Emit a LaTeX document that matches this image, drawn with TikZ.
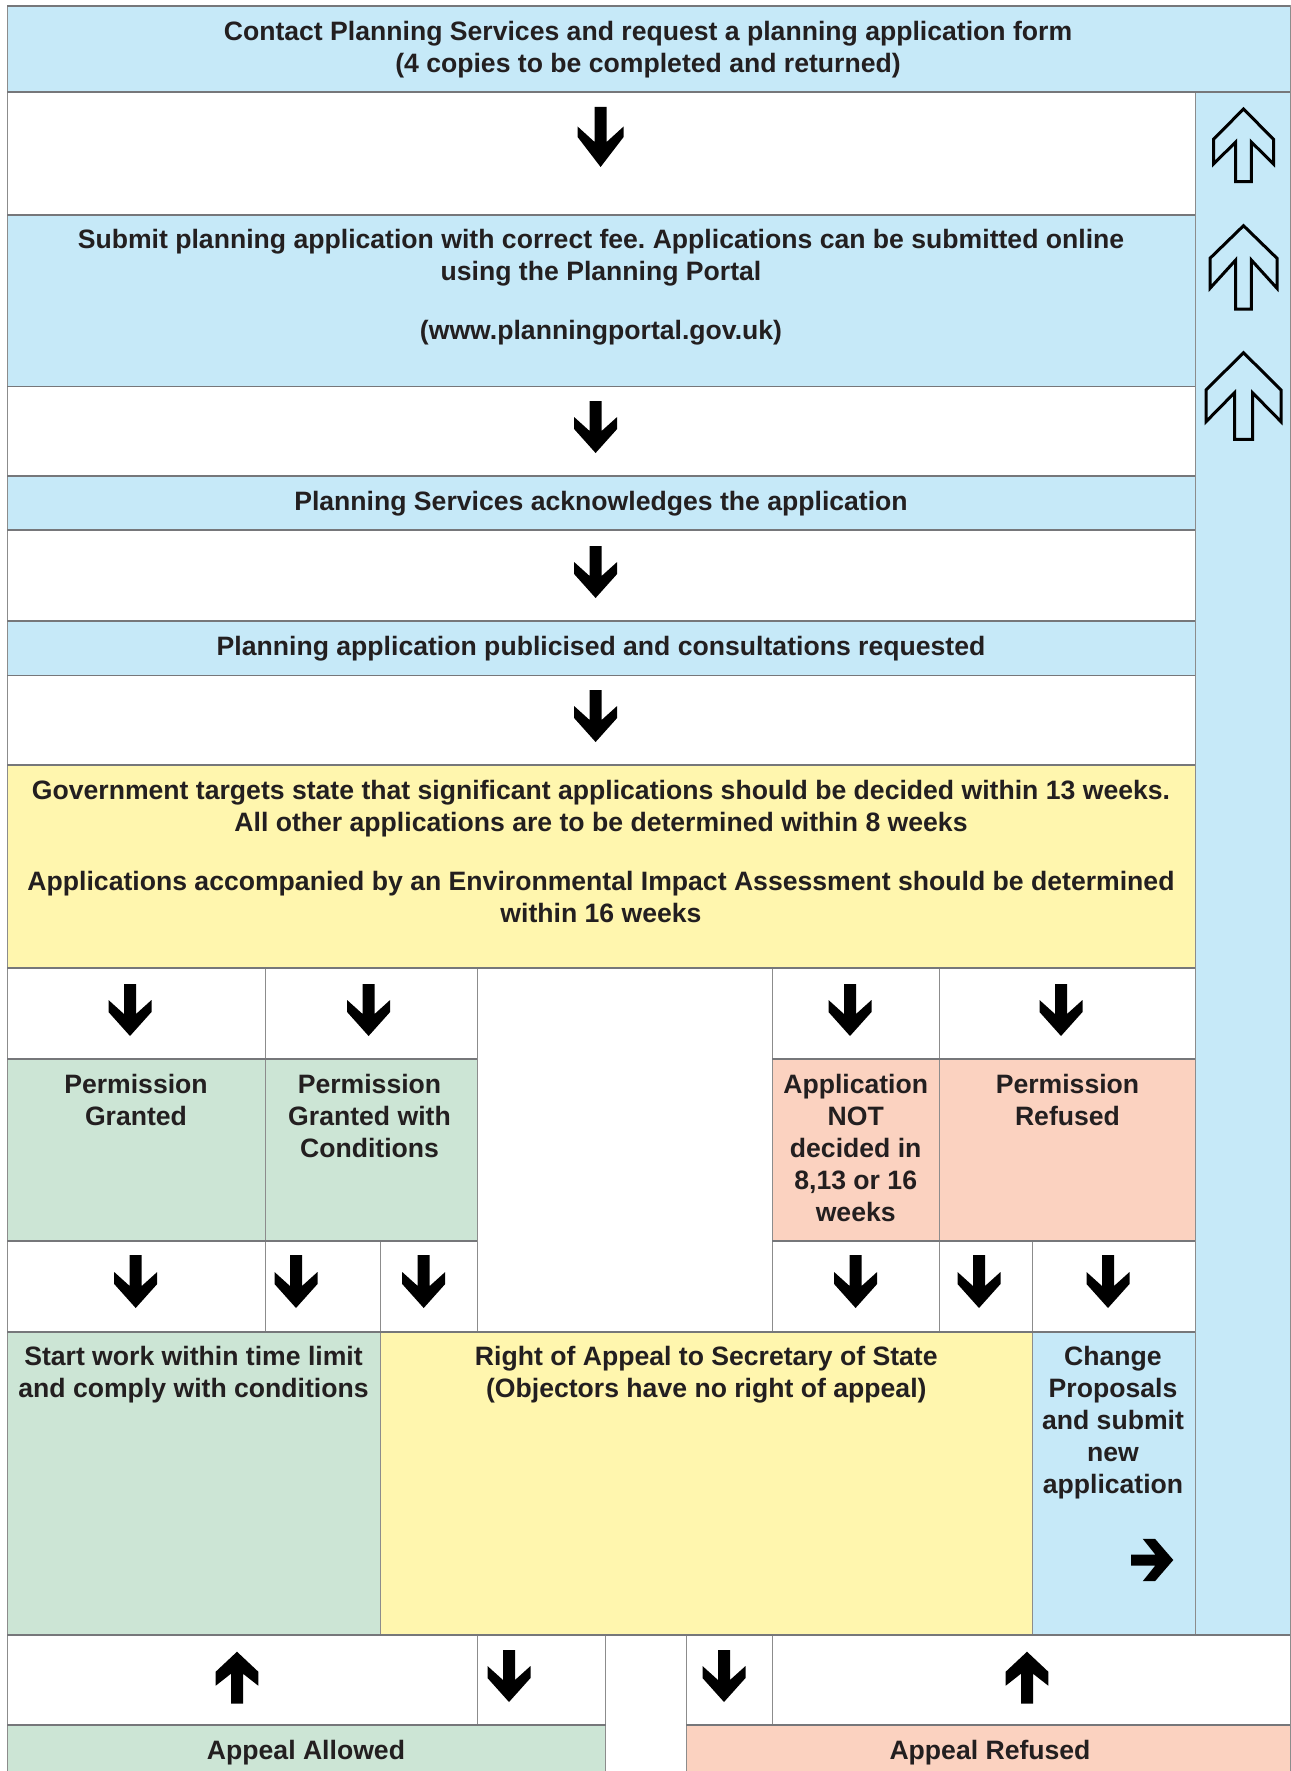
\documentclass[tikz,border=0pt]{standalone}
\usepackage{fontspec}
\setmainfont{Liberation Sans}
\definecolor{cblue}{HTML}{C6E9F8}
\definecolor{cyel}{HTML}{FFF6AE}
\definecolor{cgreen}{HTML}{CCE5D5}
\definecolor{csalm}{HTML}{FBD2C0}
\definecolor{cline}{HTML}{76777A}
\definecolor{cvline}{HTML}{8C8C8C}
\definecolor{ctext}{HTML}{231F20}
\newcommand\cellfont{\fontsize{26.6}{31.9}\selectfont\bfseries\frenchspacing}
% #1 style, #2 tip, #3 rotation, #4 head half width, #5 shaft half width,
% #6 length, #7 barb near, #8 barb far, #9 notch
\newcommand\fatarrow[9][fill=black]{%
  \path[#1, shift={#2}, rotate=#3] (0,0) -- (#4,-#7) -- (#4,-#8) -- (#5,-#9)
    -- (#5,-#6) -- (-#5,-#6) -- (-#5,-#9) -- (-#4,-#8) -- (-#4,-#7) -- cycle;}
\tikzset{
  txt/.style={font=\cellfont, text=ctext, align=center, anchor=north, inner sep=0pt},
  cellbox/.style={draw=cvline, line width=1pt},
  hline/.style={draw=cline, line width=1.8pt},
  outarr/.style={draw=black, line width=3pt, line join=miter},
}
\begin{document}
\begin{tikzpicture}[x=1pt,y=-1pt]
\useasboundingbox (0,0) rectangle (1290,1771);
\fill[white] (0,0) rectangle (1290,1771);
% --- cells ---
\path[cellbox, fill=cblue] (7,6) rectangle (1290,92.3);
\path[cellbox, fill=cblue] (1195.4,92.3) rectangle (1290,1635);
\path[cellbox, fill=white] (7,92.3) rectangle (1195.4,214.7);
\path[cellbox, fill=cblue] (7,214.7) rectangle (1195.4,386.5);
\path[cellbox, fill=white] (7,386.5) rectangle (1195.4,476);
\path[cellbox, fill=cblue] (7,476) rectangle (1195.4,530);
\path[cellbox, fill=white] (7,530) rectangle (1195.4,621);
\path[cellbox, fill=cblue] (7,621) rectangle (1195.4,675.5);
\path[cellbox, fill=white] (7,675.5) rectangle (1195.4,765);
\path[cellbox, fill=cyel] (7,765) rectangle (1195.4,968);
% row J
\path[cellbox, fill=white] (7,968) rectangle (265,1059);
\path[cellbox, fill=white] (265,968) rectangle (477,1059);
\path[cellbox, fill=white] (772,968) rectangle (939.5,1059);
\path[cellbox, fill=white] (939.5,968) rectangle (1195.4,1059);
% row K
\path[cellbox, fill=cgreen] (7,1059) rectangle (265,1240.7);
\path[cellbox, fill=cgreen] (265,1059) rectangle (477,1240.7);
\path[cellbox, fill=csalm] (772,1059) rectangle (939.5,1240.7);
\path[cellbox, fill=csalm] (939.5,1059) rectangle (1195.4,1240.7);
% row L
\path[cellbox, fill=white] (7,1240.7) rectangle (265,1331.7);
\path[cellbox, fill=white] (265,1240.7) rectangle (380,1331.7);
\path[cellbox, fill=white] (380,1240.7) rectangle (477,1331.7);
\path[cellbox, fill=white] (772,1240.7) rectangle (939.5,1331.7);
\path[cellbox, fill=white] (939.5,1240.7) rectangle (1032.5,1331.7);
\path[cellbox, fill=white] (1032.5,1240.7) rectangle (1195.4,1331.7);
% row M
\path[cellbox, fill=cgreen] (7,1331.7) rectangle (380,1635);
\path[cellbox, fill=cyel] (380,1331.7) rectangle (1032.5,1635);
\path[cellbox, fill=cblue] (1032.5,1331.7) rectangle (1195.4,1635);
% row N
\path[cellbox, fill=white] (7,1635) rectangle (477,1725);
\path[cellbox, fill=white] (477,1635) rectangle (605.5,1725);
\path[cellbox, fill=white] (686,1635) rectangle (772,1725);
\path[cellbox, fill=white] (772,1635) rectangle (1290,1725);
% row O
\path[cellbox, fill=cgreen] (7,1725) rectangle (605.5,1776);
\path[cellbox, fill=csalm] (686,1725) rectangle (1290,1776);
% --- row separators ---
\draw[hline] (7,6) -- (1290,6);
\draw[hline] (7,92.3) -- (1290,92.3);
\foreach \yy in {214.7,386.5,476,530,621,675.5,765,968,1331.7}
  {\draw[hline] (7,\yy) -- (1195.4,\yy);}
\draw[hline] (7,1059) -- (477,1059);
\draw[hline] (772,1059) -- (1195.4,1059);
\draw[hline] (7,1240.7) -- (477,1240.7);
\draw[hline] (772,1240.7) -- (1195.4,1240.7);
\draw[hline] (7,1635) -- (1290,1635);
\draw[hline] (7,1725) -- (605.5,1725);
\draw[hline] (686,1725) -- (1290,1725);
% --- texts ---
\node[txt] (a) at (648,17.7) {\strut Contact Planning Services and request a planning application form\\(4 copies to be completed and returned)};
\node[txt] (c) at (601,226) {\strut Submit planning application with correct fee. Applications can be submitted online\\using the Planning Portal\\[27pt](www.planningportal.gov.uk)};
\node[txt] (e) at (601,487.7) {\strut Planning Services acknowledges the application};
\node[txt] (g) at (601,632.5) {\strut Planning application publicised and consultations requested};
\node[txt] (i) at (601,777.3) {\strut Government targets state that significant applications should be decided within 13 weeks.\\All other applications are to be determined within 8 weeks\\[26.5pt]Applications accompanied by an Environmental Impact Assessment should be determined\\within 16 weeks};
\node[txt] (k1) at (136,1071.3) {\strut Permission\\Granted};
\node[txt] (k2) at (369.5,1071.3) {\strut Permission\\Granted with\\Conditions};
\node[txt] (k3) at (855.7,1071.3) {\strut Application\\NOT\\decided in\\8,13 or 16\\weeks};
\node[txt] (k4) at (1067.5,1071.3) {\strut Permission\\Refused};
\node[txt] (m1) at (193.5,1343.2) {\strut Start work within time limit\\and comply with conditions};
\node[txt] (m2) at (706.3,1343.2) {\strut Right of Appeal to Secretary of State\\(Objectors have no right of appeal)};
\node[txt] (m3) at (1113,1343.2) {\strut Change\\Proposals\\and submit\\new\\application};
\node[txt] (o1) at (306,1736.7) {\strut Appeal Allowed};
\node[txt] (o2) at (990,1736.7) {\strut Appeal Refused};
% --- solid arrows ---
\fatarrow{(600.6,167)}{0}{23}{6}{60}{30}{40.5}{25}
\fatarrow{(595.6,453)}{0}{21.5}{6}{52}{24}{36}{22}
\fatarrow{(595.6,598)}{0}{21.5}{6}{52}{24}{36}{22}
\fatarrow{(595.6,742)}{0}{21.5}{6}{52}{24}{36}{22}
\foreach \xx in {130,368.6,850,1061}
  {\fatarrow{(\xx,1036)}{0}{21.5}{6}{52}{24}{36}{22}}
\foreach \xx in {135.7,296,423.7,855.6,979,1108}
  {\fatarrow{(\xx,1308)}{0}{21.5}{6}{53}{24}{36}{22}}
\fatarrow{(509,1702)}{0}{21.5}{6}{52}{24}{36}{22}
\fatarrow{(724,1702)}{0}{21.5}{6}{52}{24}{36}{22}
\fatarrow{(237,1651.7)}{180}{21.3}{6}{52}{20}{34}{22}
\fatarrow{(1027,1651.7)}{180}{21.3}{6}{52}{20}{34}{22}
\fatarrow{(1173.3,1560)}{90}{21.2}{5.5}{42.3}{18.3}{30.6}{18}
% --- outline arrows in the right column ---
\fatarrow[outarr]{(1243.5,109)}{180}{30}{7.8}{72.7}{30.3}{55}{33}
\fatarrow[outarr]{(1243.5,225.7)}{180}{33.5}{7.8}{83.3}{32.6}{62.6}{34.3}
\fatarrow[outarr]{(1243.5,352.7)}{180}{37.5}{9}{86.6}{37.3}{69}{40}
\end{tikzpicture}
\end{document}
